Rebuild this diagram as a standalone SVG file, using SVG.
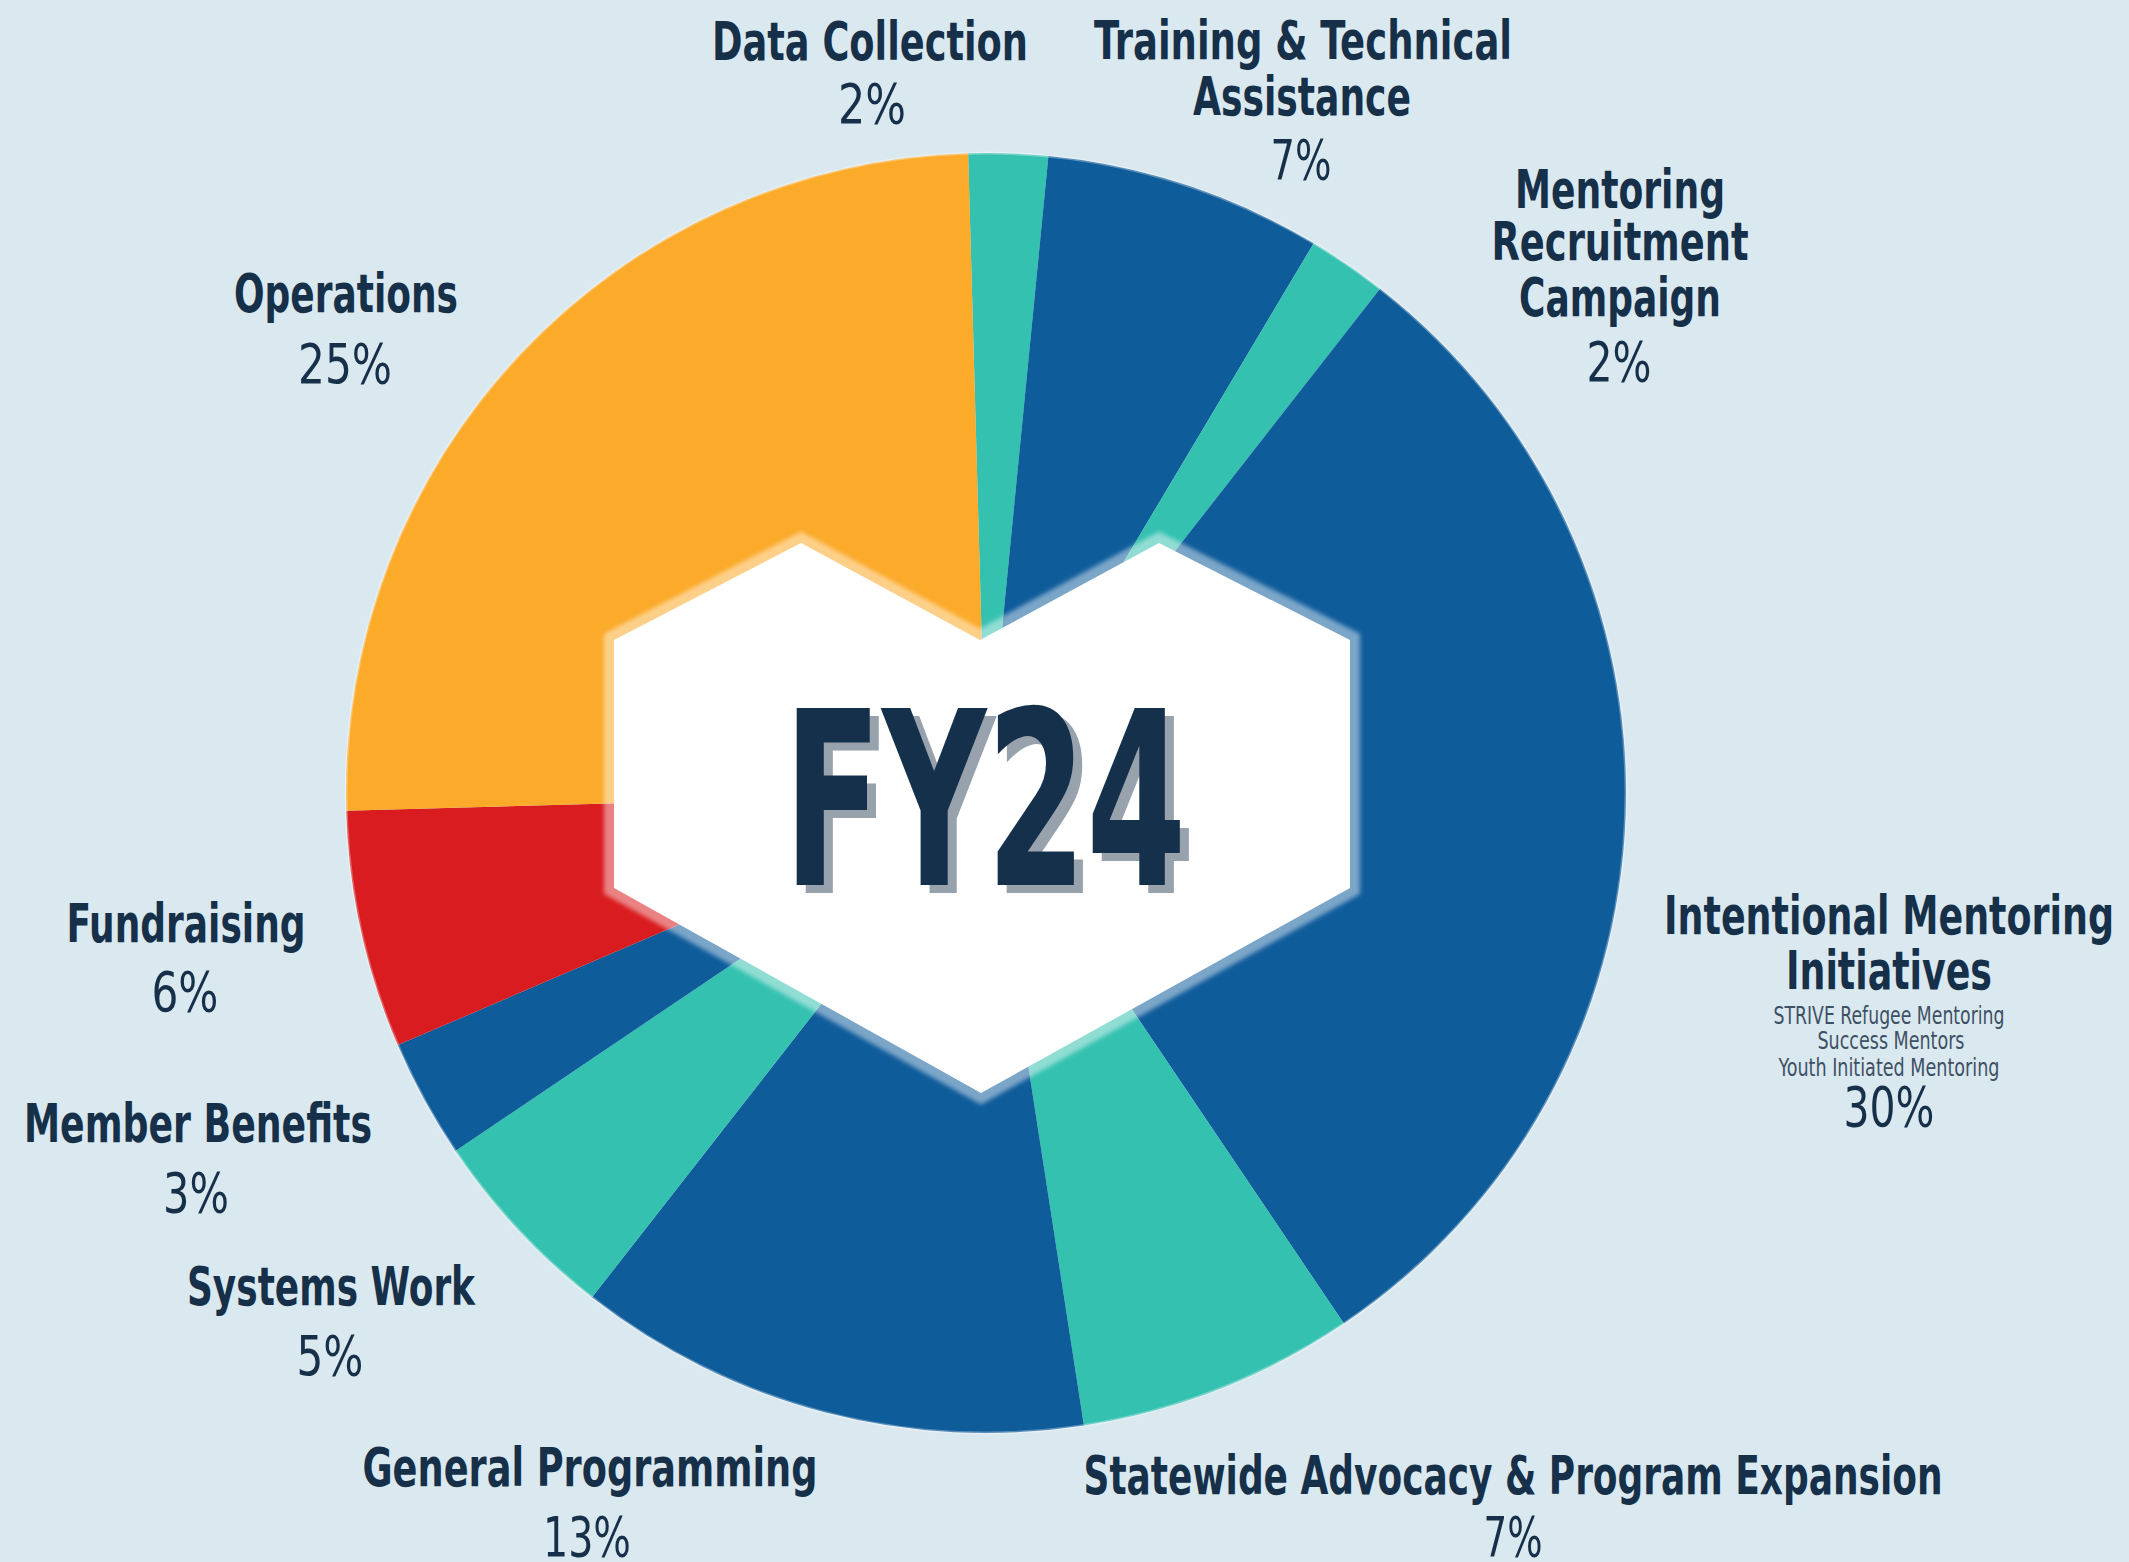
<svg xmlns="http://www.w3.org/2000/svg" width="2129" height="1562" viewBox="0 0 2129 1562">
<style>
.bg{fill:#dae8ef}
.blue{fill:#0f5c9b}
.teal{fill:#35c1b0}
.orange{fill:#fbaa2a}
.red{fill:#d91c1f}
.t{font-family:"Liberation Sans Narrow","DejaVu Sans Condensed","Liberation Sans",sans-serif;font-stretch:condensed;fill:#16304a;text-anchor:middle}
.title{font-size:53px;font-weight:700}
.pct{font-size:56px;font-weight:400}
.sub{font-size:25px;font-weight:400;fill:#3e5064}
.fy{font-family:"Liberation Sans Narrow","DejaVu Sans Condensed","Liberation Sans",sans-serif;font-stretch:condensed;font-size:242px;font-weight:700;text-anchor:middle}
</style>
<defs>
<filter id="soft" x="-10%" y="-10%" width="120%" height="120%">
<feGaussianBlur stdDeviation="2"/>
</filter>
</defs>
<rect class="bg" x="0" y="0" width="2129" height="1562"/>
<g id="pie">
<g id="data-collection">
<path class="teal" d="M986,793 L968.13,153.25 A640,640 0 0 1 1048.45,156.05 Z"/>
<text class="t title" x="870" y="60" textLength="316" lengthAdjust="spacingAndGlyphs">Data Collection</text>
<text class="t pct" x="872" y="123" textLength="68" lengthAdjust="spacingAndGlyphs">2%</text>
</g>
<g id="training">
<path class="blue" d="M986,793 L1048.45,156.05 A640,640 0 0 1 1313.71,243.27 Z"/>
<text class="t title" x="1303" y="59" textLength="418" lengthAdjust="spacingAndGlyphs">Training &amp; Technical</text>
<text class="t title" x="1302" y="115" textLength="218" lengthAdjust="spacingAndGlyphs">Assistance</text>
<text class="t pct" x="1301" y="179" textLength="61" lengthAdjust="spacingAndGlyphs">7%</text>
</g>
<g id="mentoring-recruitment">
<path class="teal" d="M986,793 L1313.71,243.27 A640,640 0 0 1 1380.02,288.67 Z"/>
<text class="t title" x="1620" y="208" textLength="210" lengthAdjust="spacingAndGlyphs">Mentoring</text>
<text class="t title" x="1620" y="260" textLength="257" lengthAdjust="spacingAndGlyphs">Recruitment</text>
<text class="t title" x="1620" y="316" textLength="202" lengthAdjust="spacingAndGlyphs">Campaign</text>
<text class="t pct" x="1619" y="381" textLength="65" lengthAdjust="spacingAndGlyphs">2%</text>
</g>
<g id="intentional-mentoring">
<path class="blue" d="M986,793 L1380.02,288.67 A640,640 0 0 1 1343.88,1323.58 Z"/>
<text class="t title" x="1889" y="934" textLength="450" lengthAdjust="spacingAndGlyphs">Intentional Mentoring</text>
<text class="t title" x="1889" y="989" textLength="206" lengthAdjust="spacingAndGlyphs">Initiatives</text>
<text class="t sub" x="1889" y="1024" textLength="231" lengthAdjust="spacingAndGlyphs">STRIVE Refugee Mentoring</text>
<text class="t sub" x="1891" y="1049" textLength="147" lengthAdjust="spacingAndGlyphs">Success Mentors</text>
<text class="t sub" x="1889" y="1076" textLength="221" lengthAdjust="spacingAndGlyphs">Youth Initiated Mentoring</text>
<text class="t pct" x="1889" y="1126" textLength="91" lengthAdjust="spacingAndGlyphs">30%</text>
</g>
<g id="statewide-advocacy">
<path class="teal" d="M986,793 L1343.88,1323.58 A640,640 0 0 1 1083.91,1425.47 Z"/>
<text class="t title" x="1513" y="1494" textLength="859" lengthAdjust="spacingAndGlyphs">Statewide Advocacy &amp; Program Expansion</text>
<text class="t pct" x="1513" y="1556" textLength="59" lengthAdjust="spacingAndGlyphs">7%</text>
</g>
<g id="general-programming">
<path class="blue" d="M986,793 L1083.91,1425.47 A640,640 0 0 1 591.98,1297.33 Z"/>
<text class="t title" x="590" y="1486" textLength="455" lengthAdjust="spacingAndGlyphs">General Programming</text>
<text class="t pct" x="587" y="1556" textLength="88" lengthAdjust="spacingAndGlyphs">13%</text>
</g>
<g id="systems-work">
<path class="teal" d="M986,793 L591.98,1297.33 A640,640 0 0 1 455.42,1150.88 Z"/>
<text class="t title" x="331" y="1305" textLength="288" lengthAdjust="spacingAndGlyphs">Systems Work</text>
<text class="t pct" x="330" y="1375" textLength="67" lengthAdjust="spacingAndGlyphs">5%</text>
</g>
<g id="member-benefits">
<path class="blue" d="M986,793 L455.42,1150.88 A640,640 0 0 1 397.75,1045.12 Z"/>
<text class="t title" x="198" y="1142" textLength="348" lengthAdjust="spacingAndGlyphs">Member Benefits</text>
<text class="t pct" x="196" y="1212" textLength="66" lengthAdjust="spacingAndGlyphs">3%</text>
</g>
<g id="fundraising">
<path class="red" d="M986,793 L397.75,1045.12 A640,640 0 0 1 346.25,810.87 Z"/>
<text class="t title" x="186" y="942" textLength="239" lengthAdjust="spacingAndGlyphs">Fundraising</text>
<text class="t pct" x="185" y="1011" textLength="67" lengthAdjust="spacingAndGlyphs">6%</text>
</g>
<g id="operations">
<path class="orange" d="M986,793 L346.25,810.87 A640,640 0 0 1 968.13,153.25 Z"/>
<text class="t title" x="346" y="312" textLength="224" lengthAdjust="spacingAndGlyphs">Operations</text>
<text class="t pct" x="345" y="383" textLength="94" lengthAdjust="spacingAndGlyphs">25%</text>
</g>
<circle cx="986" cy="793" r="640" fill="none" stroke="#ffffff" stroke-opacity="0.3" stroke-width="3"/>
</g>
<g id="center-badge">
<polygon points="614,640 801,543 980,640 1159,543 1350,640 1350,888 981,1093 614,888" fill="none" stroke="#ffffff" stroke-opacity="0.45" stroke-width="20" stroke-linejoin="miter" filter="url(#soft)"/>
<polygon points="614,640 801,543 980,640 1159,543 1350,640 1350,888 981,1093 614,888" fill="#ffffff"/>
<text class="fy" x="994" y="893" fill="#97a2ad" textLength="403" lengthAdjust="spacingAndGlyphs">FY24</text>
<text class="fy" x="985" y="885" fill="#15304b" textLength="403" lengthAdjust="spacingAndGlyphs">FY24</text>
</g>
<g id="connectors"/>
</svg>
